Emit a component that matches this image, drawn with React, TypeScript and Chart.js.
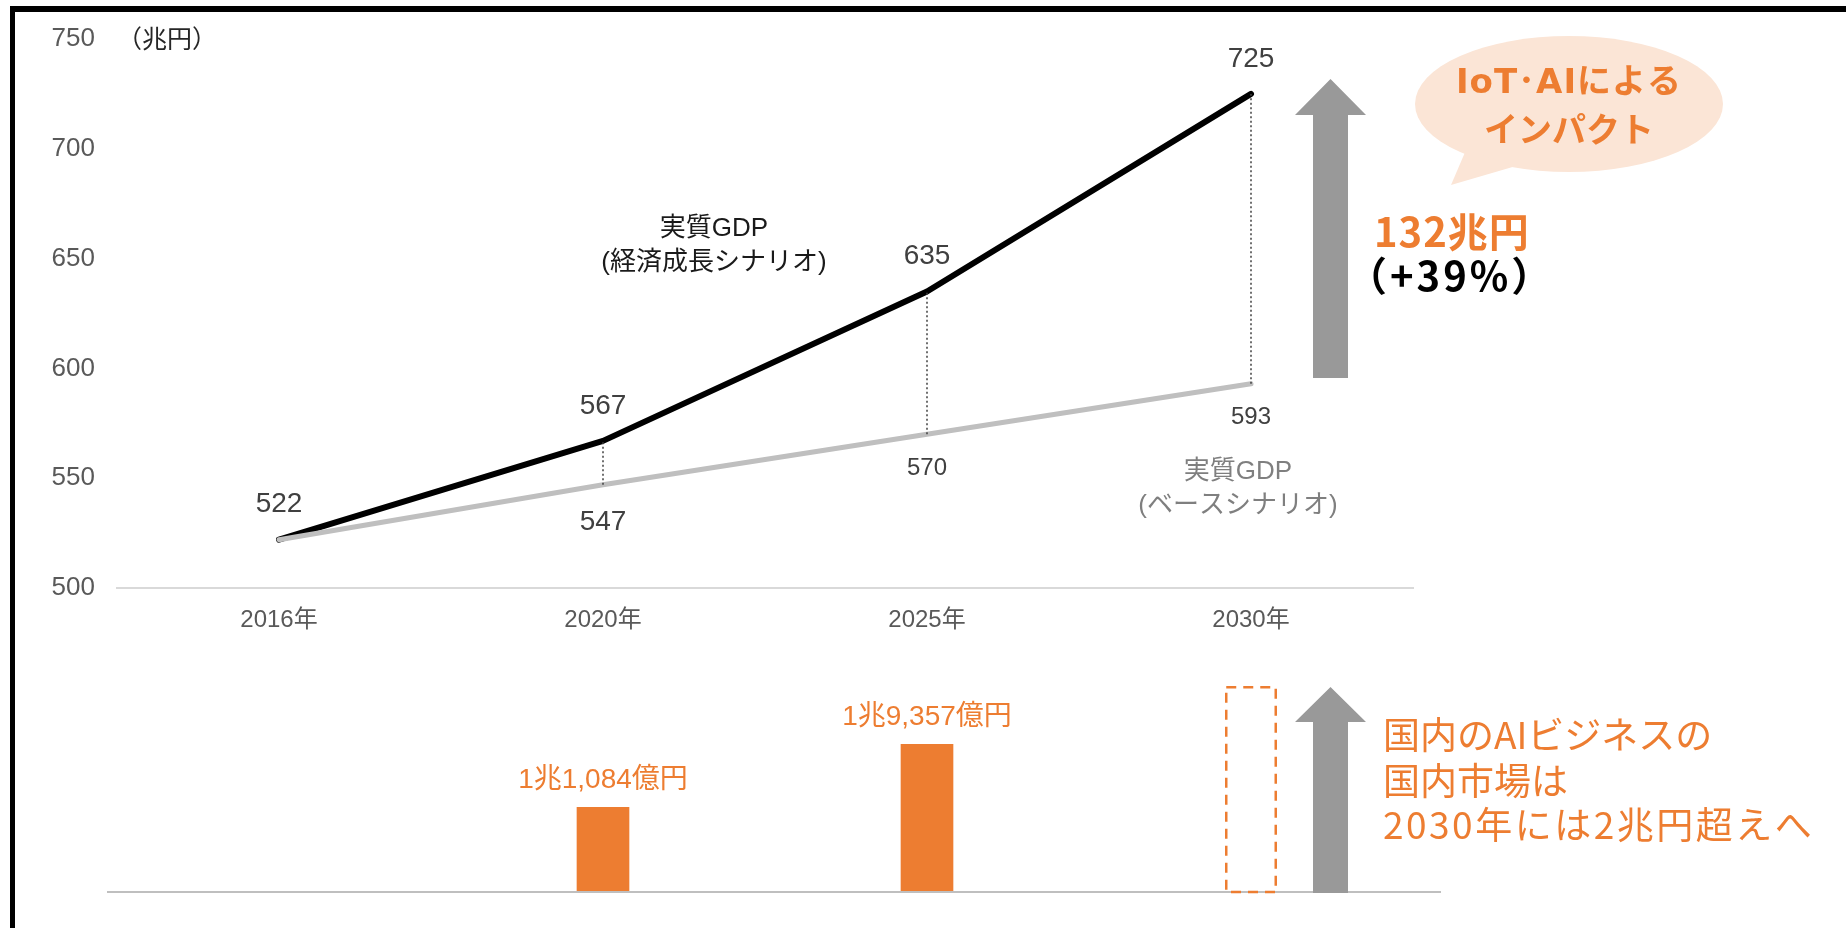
import React, { useEffect, useRef } from "react";
import { Chart, registerables } from "chart.js";

Chart.register(...registerables);

// ---------------- data ----------------
const years = ["2016年", "2020年", "2025年", "2030年"];
const gdpGrowthScenario = [522, 567, 635, 725];
const gdpBaseScenario = [522, 547, 570, 593];
const gdpTicks = [500, 550, 600, 650, 700, 750];
const gdpUnit = "（兆円）";

const aiMarketOkuYen: (number | null)[] = [null, 11084, 19357, null];
const aiMarketOutlook: (number | null)[] = [null, null, null, 27000];
const aiMarketLabels = ["", "1兆1,084億円", "1兆9,357億円", ""];

const growthName = ["実質GDP", "(経済成長シナリオ)"];
const baseName = ["実質GDP", "(ベースシナリオ)"];
const impactBubble = ["IoT･AIによる", "インパクト"];
const impactAmount = "132兆円";
const impactRate = "（+39%）";
const aiMessage = ["国内のAIビジネスの", "国内市場は", "2030年には2兆円超えへ"];

// ---------------- styles ----------------
const LATIN = '"Liberation Sans", "Noto Sans CJK JP", sans-serif';
const JP = '"Noto Sans CJK JP", sans-serif';
const WIDE = '"DejaVu Sans", "Noto Sans CJK JP", sans-serif';
const ORANGE = "#ED7D31";
const ARROW_GREY = "#999999";

function drawText(
  ctx: CanvasRenderingContext2D,
  s: string,
  x: number,
  y: number,
  font: string,
  color: string,
  align: CanvasTextAlign = "center",
  spacing = 0
) {
  ctx.save();
  ctx.font = font;
  ctx.fillStyle = color;
  ctx.textAlign = align;
  ctx.textBaseline = "middle";
  (ctx as any).letterSpacing = spacing + "px";
  ctx.fillText(s, x, y);
  ctx.restore();
}

function upArrow(
  ctx: CanvasRenderingContext2D,
  cx: number,
  tip: number,
  headBase: number,
  bottom: number,
  headHalf: number,
  shaftHalf: number,
  color: string
) {
  ctx.save();
  ctx.fillStyle = color;
  ctx.beginPath();
  ctx.moveTo(cx, tip);
  ctx.lineTo(cx + headHalf, headBase);
  ctx.lineTo(cx + shaftHalf, headBase);
  ctx.lineTo(cx + shaftHalf, bottom);
  ctx.lineTo(cx - shaftHalf, bottom);
  ctx.lineTo(cx - shaftHalf, headBase);
  ctx.lineTo(cx - headHalf, headBase);
  ctx.closePath();
  ctx.fill();
  ctx.restore();
}

const gdpPlugin = {
  id: "gdpAnnotations",
  afterDatasetsDraw(chart: any) {
    const ctx: CanvasRenderingContext2D = chart.ctx;
    const g = chart.getDatasetMeta(0).data;
    const b = chart.getDatasetMeta(1).data;
    // dotted connectors
    ctx.save();
    ctx.strokeStyle = "#404040";
    ctx.lineWidth = 1.5;
    ctx.setLineDash([2, 2.5]);
    for (let i = 1; i < g.length; i++) {
      ctx.beginPath();
      ctx.moveTo(g[i].x, b[i].y);
      ctx.lineTo(g[i].x, g[i].y);
      ctx.stroke();
    }
    ctx.restore();
    gdpGrowthScenario.forEach((v, i) =>
      drawText(ctx, String(v), g[i].x, g[i].y - 35, `28px ${LATIN}`, "#404040")
    );
    gdpBaseScenario.forEach((v, i) => {
      if (i === 0) return;
      const big = i === 1;
      drawText(ctx, String(v), b[i].x, b[i].y + (big ? 37 : 34), `${big ? 28 : 24}px ${LATIN}`, "#404040");
    });
  },
  afterDraw(chart: any) {
    const ctx: CanvasRenderingContext2D = chart.ctx;
    const area = chart.chartArea;
    drawText(ctx, gdpUnit, area.left, area.top - 1, `25px ${JP}`, "#262626", "left");
    // series names
    drawText(ctx, growthName[0], 714, 229, `26px ${LATIN}`, "#1a1a1a");
    drawText(ctx, growthName[1], 714, 263, `26px ${LATIN}`, "#1a1a1a");
    drawText(ctx, baseName[0], 1238, 472, `26px ${LATIN}`, "#7F7F7F");
    drawText(ctx, baseName[1], 1238, 506, `26px ${LATIN}`, "#7F7F7F");
    // impact arrow
    upArrow(ctx, 1330.5, 79, 115, 378, 35.5, 17.5, ARROW_GREY);
    // speech bubble
    ctx.save();
    ctx.fillStyle = "#FBE5D6";
    ctx.beginPath();
    ctx.ellipse(1569, 104, 154, 68, 0, 0, Math.PI * 2);
    ctx.fill();
    ctx.beginPath();
    ctx.moveTo(1466, 150);
    ctx.lineTo(1451, 185);
    ctx.lineTo(1516, 166);
    ctx.closePath();
    ctx.fill();
    ctx.restore();
    drawText(ctx, impactBubble[0], 1569, 84, `bold 34px ${WIDE}`, ORANGE, "center", 1);
    drawText(ctx, impactBubble[1], 1569, 129, `bold 34px ${JP}`, ORANGE);
    drawText(ctx, impactAmount, 1374, 232, `bold 40px ${JP}`, ORANGE, "left", 1);
    drawText(ctx, impactRate, 1347, 276, `bold 40px ${JP}`, "#000000", "left", 3);
  },
};

const aiPlugin = {
  id: "aiAnnotations",
  afterDatasetsDraw(chart: any) {
    const ctx: CanvasRenderingContext2D = chart.ctx;
    const area = chart.chartArea;
    // baseline
    ctx.save();
    ctx.strokeStyle = "#BFBFBF";
    ctx.lineWidth = 2;
    ctx.beginPath();
    ctx.moveTo(area.left - 10, area.bottom);
    ctx.lineTo(area.right + 28, area.bottom);
    ctx.stroke();
    ctx.restore();
    // value labels
    const bars = chart.getDatasetMeta(0).data;
    aiMarketOkuYen.forEach((v, i) => {
      if (v == null) return;
      drawText(ctx, aiMarketLabels[i], bars[i].x, bars[i].y - 27, `28px ${LATIN}`, ORANGE);
    });
    // dashed outlook bar
    const out = chart.getDatasetMeta(1).data;
    aiMarketOutlook.forEach((v, i) => {
      if (v == null) return;
      const el = out[i];
      const w = el.width;
      ctx.save();
      ctx.strokeStyle = ORANGE;
      ctx.lineWidth = 2.5;
      ctx.setLineDash([10, 7]);
      ctx.strokeRect(el.x - w / 2 + 1.25, el.y + 1.25, w - 2.5, el.base - el.y - 1.25);
      ctx.restore();
    });
    // arrow + message
    upArrow(ctx, 1330.5, 27, 62, 233, 35.5, 17.5, ARROW_GREY);
    drawText(ctx, aiMessage[0], 1383, 75, `37px ${JP}`, ORANGE, "left");
    drawText(ctx, aiMessage[1], 1383, 121, `37px ${JP}`, ORANGE, "left");
    drawText(ctx, aiMessage[2], 1383, 165, `37px ${JP}`, ORANGE, "left", 2.5);
  },
};

export default function App() {
  const topRef = useRef<HTMLCanvasElement>(null);
  const botRef = useRef<HTMLCanvasElement>(null);

  useEffect(() => {
    const top = new Chart(topRef.current as HTMLCanvasElement, {
      type: "line",
      data: {
        labels: years,
        datasets: [
          {
            label: "実質GDP(経済成長シナリオ)",
            data: gdpGrowthScenario,
            borderColor: "#000000",
            borderWidth: 6,
            pointRadius: 0,
            borderCapStyle: "round",
            borderJoinStyle: "round",
            tension: 0,
            order: 1,
          },
          {
            label: "実質GDP(ベースシナリオ)",
            data: gdpBaseScenario,
            borderColor: "#BFBFBF",
            borderWidth: 5,
            pointRadius: 0,
            borderCapStyle: "round",
            borderJoinStyle: "round",
            tension: 0,
            order: 0,
          },
        ],
      },
      options: {
        responsive: false,
        animation: false,
        devicePixelRatio: 1,
        events: [],
        layout: { padding: { left: 0, right: 433, top: 39, bottom: 0 } },
        scales: {
          x: {
            offset: true,
            grid: { display: false, drawTicks: false },
            border: { display: true, color: "#D9D9D9", width: 2 },
            ticks: { color: "#595959", font: { family: LATIN, size: 24 }, padding: 18 },
            afterFit: (s: any) => {
              s.height = 72;
            },
          },
          y: {
            min: 500,
            max: 750,
            grid: { display: false, drawTicks: false },
            border: { display: false },
            ticks: { color: "#595959", font: { family: LATIN, size: 26 }, padding: 22 },
            afterBuildTicks: (s: any) => {
              s.ticks = gdpTicks.map((v) => ({ value: v }));
            },
            afterFit: (s: any) => {
              s.width = 117;
            },
          },
        },
        plugins: { legend: { display: false }, tooltip: { enabled: false } },
      } as any,
      plugins: [gdpPlugin],
    });

    const bot = new Chart(botRef.current as HTMLCanvasElement, {
      type: "bar",
      data: {
        labels: years,
        datasets: [
          {
            label: "国内AIビジネス市場",
            data: aiMarketOkuYen,
            backgroundColor: ORANGE,
            barThickness: 52,
            grouped: false,
            order: 1,
          } as any,
          {
            label: "2030年見通し",
            data: aiMarketOutlook,
            backgroundColor: "rgba(0,0,0,0)",
            borderWidth: 0,
            barThickness: 52,
            grouped: false,
            order: 2,
          } as any,
        ],
      },
      options: {
        responsive: false,
        animation: false,
        devicePixelRatio: 1,
        events: [],
        layout: { padding: { left: 117, right: 433, top: 26, bottom: 36 } },
        scales: {
          x: { display: false, offset: true },
          y: { display: false, min: 0, max: 27000 },
        },
        plugins: { legend: { display: false }, tooltip: { enabled: false } },
      } as any,
      plugins: [aiPlugin],
    });

    return () => {
      top.destroy();
      bot.destroy();
    };
  }, []);

  return (
    <div
      style={{
        position: "fixed",
        left: 0,
        top: 0,
        width: 1846,
        height: 928,
        background: "#ffffff",
        overflow: "hidden",
      }}
    >
      <div
        style={{
          position: "absolute",
          left: 10,
          top: 6,
          width: 1836,
          height: 922,
          borderTop: "6px solid #000",
          borderLeft: "5px solid #000",
          boxSizing: "border-box",
        }}
      />
      <canvas
        ref={topRef}
        width={1846}
        height={660}
        style={{ position: "absolute", left: 0, top: 0, width: 1846, height: 660 }}
      />
      <canvas
        ref={botRef}
        width={1846}
        height={268}
        style={{ position: "absolute", left: 0, top: 660, width: 1846, height: 268 }}
      />
    </div>
  );
}
